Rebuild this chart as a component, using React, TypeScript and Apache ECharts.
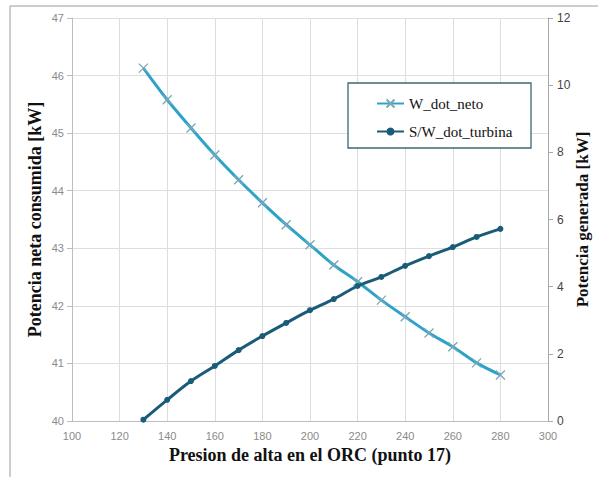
import React, { useEffect, useRef } from "react";
import * as echarts from "echarts";

const pressures = [130, 140, 150, 160, 170, 180, 190, 200, 210, 220, 230, 240, 250, 260, 270, 280];
const wDotNeto = [46.13, 45.58, 45.09, 44.62, 44.19, 43.79, 43.41, 43.06, 42.71, 42.42, 42.1, 41.81, 41.53, 41.29, 41.01, 40.8];
const swDotTurbina = [0.04, 0.63, 1.19, 1.64, 2.11, 2.53, 2.92, 3.3, 3.63, 4.02, 4.29, 4.62, 4.91, 5.18, 5.48, 5.72];

const xTitle = "Presion de alta en el ORC (punto 17)";
const yLeftTitle = "Potencia neta consumida [kW]";
const yRightTitle = "Potencia generada [kW]";
const seriesNames = ["W_dot_neto", "S/W_dot_turbina"];

const serif = "'Liberation Serif', 'Times New Roman', serif";
const sans = "'Liberation Sans', Arial, sans-serif";

export default function App() {
  const ref = useRef<HTMLDivElement>(null);
  useEffect(() => {
    if (!ref.current) return;
    const chart = echarts.init(ref.current, null, { renderer: "svg" });
    chart.setOption({
      animation: false,
      backgroundColor: "#ffffff",
      grid: { left: 72, right: 50, top: 18, bottom: 56, containLabel: false, outerBoundsMode: "none" },
      graphic: [
        {
          type: "rect",
          shape: { x: 10, y: 6, width: 620, height: 500 },
          style: { fill: "none", stroke: "#9a9a9a", lineWidth: 1 },
          silent: true,
        },
        {
          type: "rect",
          shape: { x: 348, y: 83, width: 183, height: 65 },
          style: { fill: "#ffffff", stroke: "#3e6773", lineWidth: 1.3 },
          z: 10,
        },
      ],
      legend: {
        orient: "vertical",
        left: 371,
        top: 91,
        itemGap: 13,
        itemWidth: 27,
        itemHeight: 10,
        z: 20,
        data: seriesNames,
        textStyle: { fontFamily: serif, fontSize: 15, color: "#111" },
      },
      xAxis: {
        type: "value",
        min: 100,
        max: 300,
        interval: 20,
        name: xTitle,
        nameLocation: "middle",
        nameGap: 25,
        nameMoveOverlap: false,
        nameTextStyle: { fontFamily: serif, fontWeight: "bold", fontSize: 18, color: "#111" },
        axisLine: { show: true, lineStyle: { color: "#bdbdbd" } },
        axisTick: { show: false },
        axisLabel: { color: "#8a8a8a", fontFamily: sans, fontSize: 11, margin: 9 },
        splitLine: { show: true, lineStyle: { color: "#dedede" } },
      },
      yAxis: [
        {
          type: "value",
          min: 40,
          max: 47,
          interval: 1,
          position: "left",
          name: yLeftTitle,
          nameLocation: "middle",
          nameGap: 28,
          nameMoveOverlap: false,
          nameTextStyle: { fontFamily: serif, fontWeight: "bold", fontSize: 18, color: "#111" },
          axisLine: { show: true, lineStyle: { color: "#bdbdbd" } },
          axisTick: { show: true, length: 5, lineStyle: { color: "#bdbdbd" } },
          axisLabel: { color: "#8a8a8a", fontFamily: sans, fontSize: 11, margin: 8 },
          splitLine: { show: true, lineStyle: { color: "#dedede" } },
        },
        {
          type: "value",
          min: 0,
          max: 12,
          interval: 2,
          position: "right",
          name: yRightTitle,
          nameLocation: "middle",
          nameGap: 26,
          nameMoveOverlap: false,
          nameTextStyle: { fontFamily: serif, fontWeight: "bold", fontSize: 17, color: "#111" },
          axisLine: { show: true, lineStyle: { color: "#a8a8a8" } },
          axisTick: { show: true, length: 5, lineStyle: { color: "#a8a8a8" } },
          axisLabel: { color: "#444", fontFamily: sans, fontSize: 12, margin: 9 },
          splitLine: { show: false },
        },
      ],
      series: [
        {
          name: seriesNames[0],
          type: "line",
          yAxisIndex: 0,
          data: pressures.map((p, i) => [p, wDotNeto[i]]),
          smooth: 0.3,
          symbol: "path://M0,0 L10,10 M10,0 L0,10",
          symbolSize: 9,
          lineStyle: { color: "#2ea3c8", width: 3 },
          itemStyle: { color: "#2ea3c8", borderColor: "#7aa7b8", borderWidth: 1.3 },
          z: 3,
        },
        {
          name: seriesNames[1],
          type: "line",
          yAxisIndex: 1,
          data: pressures.map((p, i) => [p, swDotTurbina[i]]),
          smooth: 0.3,
          symbol: "circle",
          symbolSize: 6,
          lineStyle: { color: "#1a5b78", width: 3 },
          itemStyle: { color: "#1a5b78", borderColor: "#1a5b78", borderWidth: 0 },
          z: 4,
        },
      ],
    });
    return () => chart.dispose();
  }, []);
  return (
    <div
      ref={ref}
      style={{ position: "fixed", left: 0, top: 0, width: 598, height: 477 }}
    />
  );
}
